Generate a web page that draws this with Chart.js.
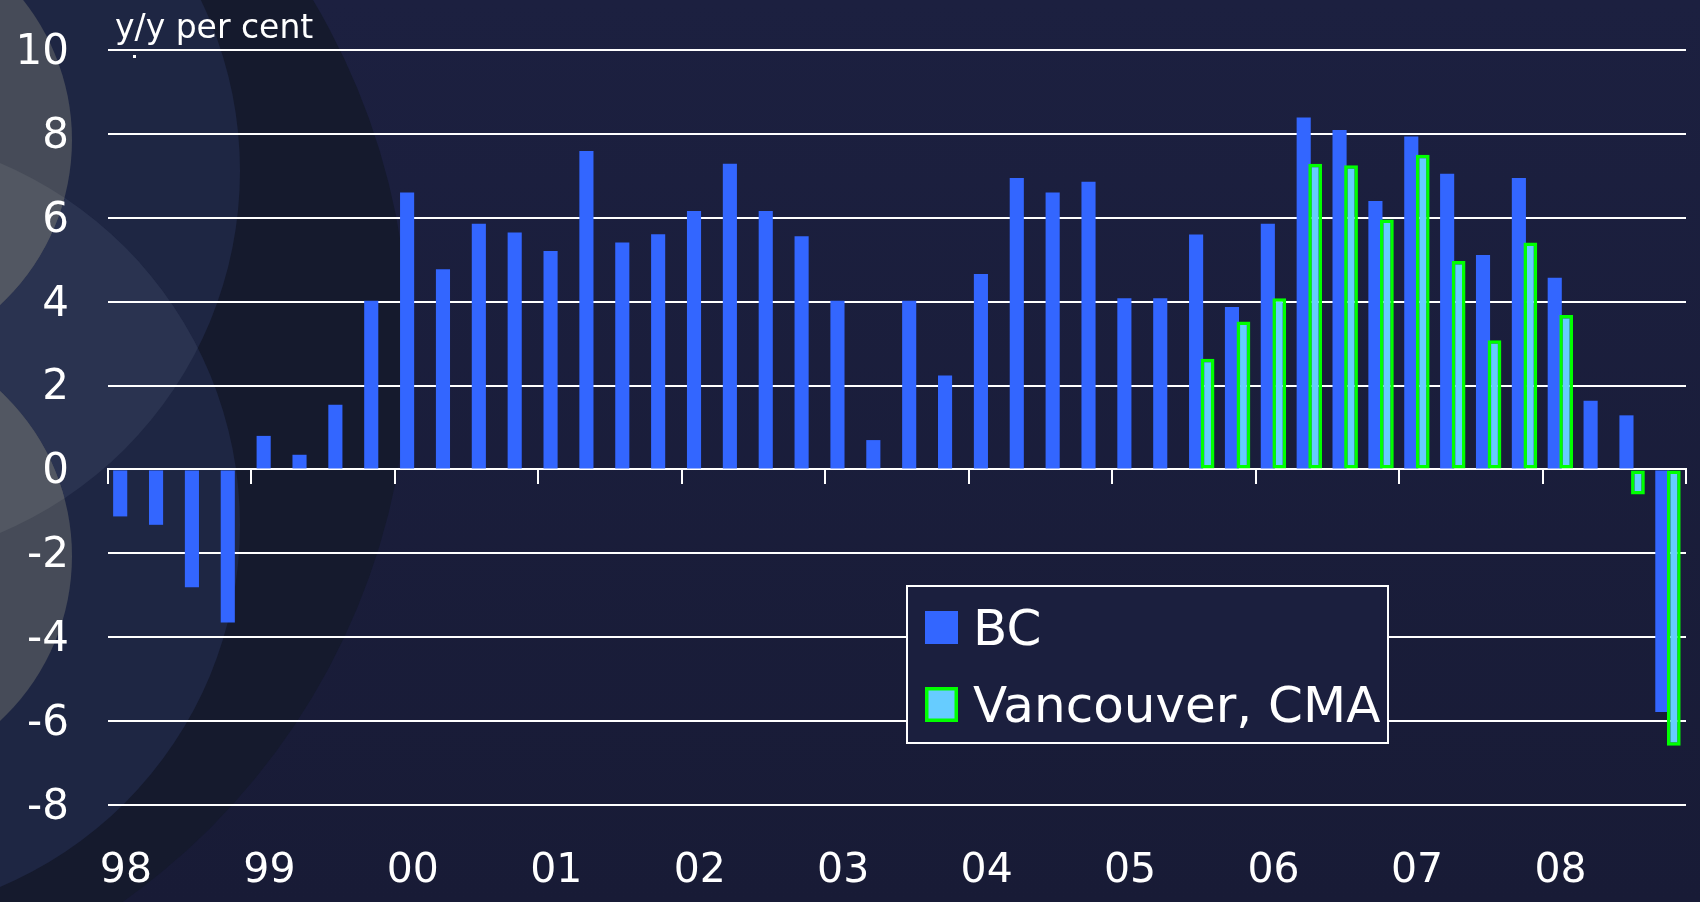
<!DOCTYPE html>
<html>
<head>
<meta charset="utf-8">
<script src="https://cdn.jsdelivr.net/npm/chart.js@4.4.1/dist/chart.umd.min.js"></script>
<style>
html,body{margin:0;padding:0;background:#1b1f3e;overflow:hidden}
canvas{display:block}
</style>
</head>
<body>
<canvas id="c" width="1700" height="902"></canvas>
<script>
// ---- data ----
const categories = [
  "98Q1","98Q2","98Q3","98Q4","99Q1","99Q2","99Q3","99Q4",
  "00Q1","00Q2","00Q3","00Q4","01Q1","01Q2","01Q3","01Q4",
  "02Q1","02Q2","02Q3","02Q4","03Q1","03Q2","03Q3","03Q4",
  "04Q1","04Q2","04Q3","04Q4","05Q1","05Q2","05Q3","05Q4",
  "06Q1","06Q2","06Q3","06Q4","07Q1","07Q2","07Q3","07Q4",
  "08Q1","08Q2","08Q3","08Q4"
];
const yearLabels = ["98","99","00","01","02","03","04","05","06","07","08"];
const bcValues = [
  -1.12, -1.32, -2.81, -3.65,
   0.80,  0.35,  1.54,  4.02,
   6.60,  4.77,  5.86,  5.65,
   5.21,  7.59,  5.41,  5.61,
   6.16,  7.29,  6.16,  5.56,
   4.02,  0.70,  4.02,  2.24,
   4.66,  6.95,  6.60,  6.86,
   4.08,  4.08,  5.60,  3.87,
   5.86,  8.39,  8.09,  6.40,
   7.94,  7.05,  5.11,  6.95,
   4.57,  1.64,  1.29, -5.78
];
const vancouverValues = [
  null, null, null, null, null, null, null, null,
  null, null, null, null, null, null, null, null,
  null, null, null, null, null, null, null, null,
  null, null, null, null, null, null, 2.64, 3.53,
  4.08, 7.29, 7.25, 5.96, 7.50, 4.97, 3.08, 5.41,
  3.68, null, -0.60, -6.59
];
const seriesNames = ["BC", "Vancouver, CMA"];
const axisTitle = "y/y per cent";
const yMin = -8, yMax = 10, yStep = 2;

// ---- styling ----
const FONT = '"DejaVu Sans", "Verdana", sans-serif';
const WHITE = '#ffffff';

function circlePath(ctx, cx, cy, r) {
  ctx.beginPath();
  ctx.arc(cx, cy, r, 0, Math.PI * 2);
}

const backdrop = {
  id: 'backdrop',
  beforeDraw(chart) {
    const ctx = chart.ctx, W = chart.width, H = chart.height;
    ctx.save();
    const g = ctx.createLinearGradient(0, 0, 0, H);
    g.addColorStop(0, '#1c2040');
    g.addColorStop(1, '#181b36');
    ctx.fillStyle = g;
    ctx.fillRect(0, 0, W, H);
    ctx.fillStyle = '#151a2d';
    circlePath(ctx, -270, 348, 679); ctx.fill();
    ctx.fillStyle = '#1e2643';
    circlePath(ctx, -153, 171, 393); ctx.fill();
    circlePath(ctx, -153, 525, 393); ctx.fill();
    ctx.save();
    circlePath(ctx, -153, 171, 393); ctx.clip();
    ctx.fillStyle = '#2a3350';
    circlePath(ctx, -153, 525, 393); ctx.fill();
    ctx.restore();
    ctx.fillStyle = '#464b58';
    circlePath(ctx, -153, 140, 225); ctx.fill();
    circlePath(ctx, -153, 556, 225); ctx.fill();
    ctx.save();
    circlePath(ctx, -153, 525, 393); ctx.clip();
    ctx.fillStyle = '#525762';
    circlePath(ctx, -153, 140, 225); ctx.fill();
    ctx.restore();
    ctx.save();
    circlePath(ctx, -153, 171, 393); ctx.clip();
    ctx.fillStyle = '#525762';
    circlePath(ctx, -153, 556, 225); ctx.fill();
    ctx.restore();
    ctx.restore();
  }
};

// draw the Vancouver bars on top of the BC bars
const vanOnTop = {
  id: 'vanOnTop',
  beforeDatasetDraw(chart, args) {
    if (args.index === 1 && !chart.$drawVan) return false;
  },
  afterDatasetsDraw(chart) {
    chart.$drawVan = true;
    const meta = chart.getDatasetMeta(1);
    chart.ctx.save();
    meta.controller.draw();
    chart.ctx.restore();
    chart.$drawVan = false;
  }
};

const annotations = {
  id: 'annotations',
  afterDraw(chart) {
    const ctx = chart.ctx;
    ctx.save();
    ctx.fillStyle = WHITE;
    ctx.textAlign = 'left';
    ctx.textBaseline = 'alphabetic';
    ctx.font = '33px ' + FONT;
    ctx.fillText(axisTitle, 115, 38);
    ctx.fillRect(133, 55, 3, 3);

    const L = 907, T = 586, R = 1388, B = 743;
    ctx.fillStyle = '#1b1f3e';
    ctx.fillRect(L, T, R - L, B - T);
    ctx.strokeStyle = WHITE;
    ctx.lineWidth = 2;
    ctx.strokeRect(L, T, R - L, B - T);
    const ds = chart.data.datasets;
    ctx.fillStyle = ds[0].backgroundColor;
    ctx.fillRect(925, 611, 33, 33);
    ctx.fillStyle = ds[1].backgroundColor;
    ctx.fillRect(925, 687, 33, 35);
    ctx.strokeStyle = ds[1].borderColor;
    ctx.lineWidth = 3.5;
    ctx.strokeRect(926.75, 688.75, 29.5, 31.5);
    ctx.fillStyle = WHITE;
    ctx.font = '50px ' + FONT;
    ctx.fillText(ds[0].label, 973, 645);
    ctx.fillText(ds[1].label, 973, 722);
    ctx.restore();
  }
};

new Chart(document.getElementById('c'), {
  type: 'bar',
  data: {
    labels: categories,
    datasets: [
      {
        label: seriesNames[0],
        data: bcValues,
        backgroundColor: '#3366ff',
        borderWidth: 0,
        categoryPercentage: 0.64,
        barPercentage: 1.23
      },
      {
        label: seriesNames[1],
        data: vancouverValues,
        backgroundColor: '#66ccff',
        borderColor: '#00ff00',
        borderWidth: 3.5,
        borderSkipped: false,
        categoryPercentage: 0.64,
        barPercentage: 1.2
      }
    ]
  },
  options: {
    responsive: false,
    animation: false,
    events: [],
    layout: { padding: { top: 50, right: 14, left: 0, bottom: 0 } },
    plugins: {
      legend: { display: false },
      tooltip: { enabled: false },
      title: { display: false }
    },
    scales: {
      x: {
        type: 'category',
        position: 'bottom',
        offset: true,
        grid: { display: false, drawTicks: false },
        border: { display: false },
        ticks: {
          autoSkip: false,
          maxRotation: 0,
          minRotation: 0,
          padding: 42,
          color: WHITE,
          font: { family: FONT, size: 41 },
          callback: (v, i) => (i % 4 === 0 ? yearLabels[i / 4] : '')
        },
        afterFit: (s) => { s.height = 97; s.paddingLeft = 0; s.paddingRight = 0; }
      },
      xZero: {
        type: 'category',
        position: { y: 0 },
        offset: true,
        grid: {
          offset: true,
          drawOnChartArea: false,
          drawTicks: true,
          tickLength: 14,
          lineWidth: 2,
          color: (c) => (c.index === undefined || c.index % 4 === 0) ? WHITE : 'rgba(0,0,0,0)'
        },
        border: { display: true, color: WHITE, width: 2 },
        ticks: { display: false }
      },
      y: {
        min: yMin,
        max: yMax,
        ticks: {
          stepSize: yStep,
          padding: 39,
          color: WHITE,
          labelOffset: 3,
          font: { family: FONT, size: 42 }
        },
        grid: { color: WHITE, lineWidth: 2, drawTicks: false },
        border: { display: false },
        afterFit: (s) => { s.width = 108; s.paddingTop = 0; s.paddingBottom = 0; }
      }
    }
  },
  plugins: [backdrop, vanOnTop, annotations]
});
</script>
</body>
</html>
